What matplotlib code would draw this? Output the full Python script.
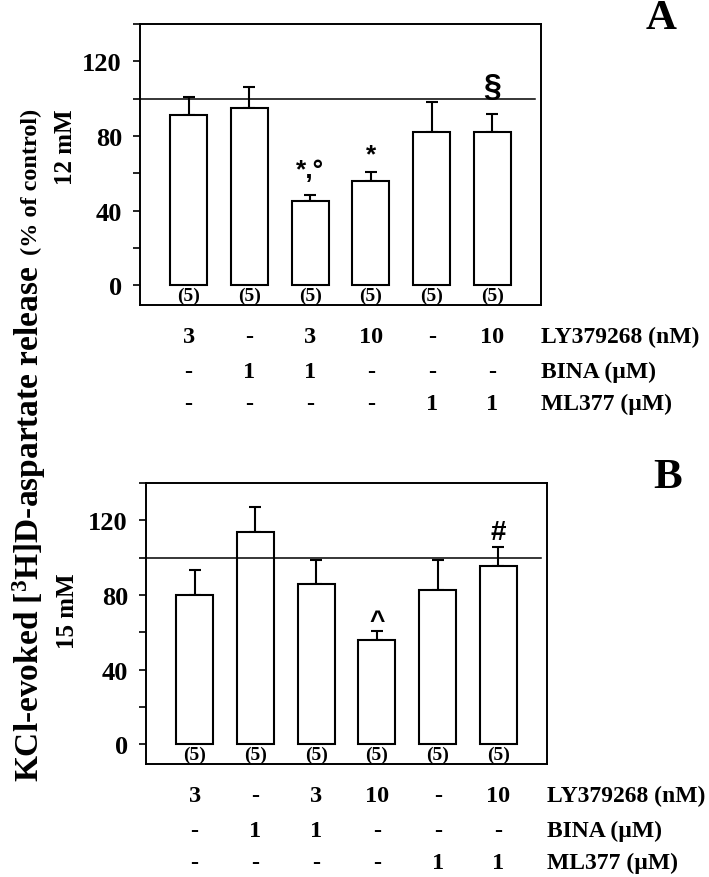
import numpy as np
import matplotlib
matplotlib.use("Agg")
import matplotlib.pyplot as plt

plt.rcParams['font.family'] = ['Liberation Serif', 'DejaVu Serif']
plt.rcParams['font.weight'] = 'bold'
plt.rcParams['mathtext.default'] = 'regular'

# data
x = np.arange(6)
vals_a = [91, 95, 45, 56, 82, 82]
errs_a = [10, 11.5, 3.6, 4.5, 16, 10]
vals_b = [80, 114, 86, 56, 82.5, 95.5]
errs_b = [13.5, 13, 13, 4.8, 16.5, 10]
n_lab = ['(5)'] * 6
ly_row = ['3', '-', '3', '10', '-', '10']
bina_row = ['-', '1', '1', '-', '-', '-']
ml_row = ['-', '-', '-', '-', '1', '1']
row_names = ['LY379268 (nM)', 'BINA (\u00b5M)', 'ML377 (\u00b5M)']
marks_a = {2: ('*,\u00b0', 62, 19), 3: ('*', 70, 19), 5: ('\u00a7', 106, 23)}
marks_b = {3: ('^', 66, 19), 5: ('#', 114, 20)}

fig = plt.figure(figsize=(7.09, 8.78), dpi=100)
axA = fig.add_axes([140/709, 1-306/878, 401/709, 281/878])
axB = fig.add_axes([146/709, 1-765/878, 401/709, 281/878])


def panel(ax, vals, errs, marks, letter):
    ax.bar(x, vals, width=0.61, color='white', edgecolor='black', linewidth=1.5, zorder=3)
    ax.errorbar(x, vals, yerr=[np.zeros(6), errs], fmt='none', ecolor='black',
                elinewidth=1.5, capsize=4, capthick=1.5, zorder=2)
    ax.plot([-0.8, 5.7], [100, 100], color='black', lw=1.1, zorder=4)
    ax.set_xlim(-0.8, 5.8)
    ax.set_ylim(-10.5, 140)
    ax.set_xticks([])
    ax.set_yticks([0, 40, 80, 120])
    ax.set_yticks([20, 60, 100, 140], minor=True)
    ax.tick_params(axis='y', which='both', direction='out', length=5, width=1.2,
                   labelsize=19, pad=8)
    for lab in ax.get_yticklabels():
        lab.set_fontweight('bold')
    for s in ax.spines.values():
        s.set_linewidth(1.4)
    for i in x:
        ax.text(i, -5.5, n_lab[i], ha='center', va='center', fontsize=14)
    for i, (s, yv, fs) in marks.items():
        ax.text(i, yv, s, ha='center', va='center', fontsize=fs, fontweight='bold',
                family=['Liberation Sans', 'DejaVu Sans'])
    tr = ax.get_xaxis_transform()
    for row, yy in zip([ly_row, bina_row, ml_row], [-0.112, -0.236, -0.35]):
        for i in x:
            ax.text(i, yy, row[i], transform=tr, ha='center', va='center', fontsize=17.5)
    for name, yy in zip(row_names, [-0.112, -0.236, -0.35]):
        ax.text(1.0, yy, name, transform=ax.transAxes, ha='left', va='center', fontsize=17)
    ax.text(1.3, 1.02, letter, transform=ax.transAxes, ha='center', va='center', fontsize=31)
    return ax


panel(axA, vals_a, errs_a, marks_a, 'A')
panel(axB, vals_b, errs_b, marks_b, 'B')

fig.text(66/709, 1-147/878, '12 mM', rotation=90, ha='center', va='center', fontsize=18)
fig.text(67/709, 1-611/878, '15 mM', rotation=90, ha='center', va='center', fontsize=18)
fig.text(29/709, 1-524/878, 'KCl-evoked [$^3$H]D-aspartate release', rotation=90,
         ha='center', va='center', fontsize=24)
fig.text(31/709, 1-182/878, '(% of control)', rotation=90, ha='center', va='center', fontsize=17.5)

fig.savefig('out.png', dpi=100)
